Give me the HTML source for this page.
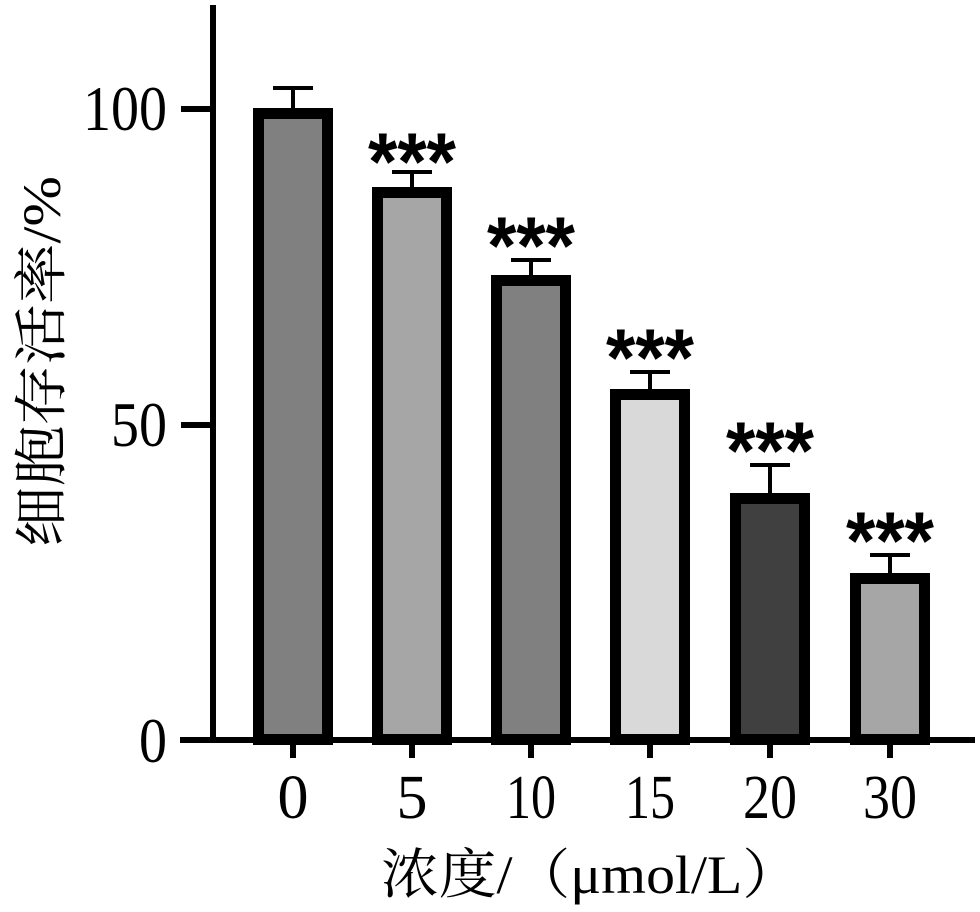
<!DOCTYPE html>
<html><head><meta charset="utf-8"><style>html,body{margin:0;padding:0;background:#fff}svg{display:block}</style></head>
<body>
<svg width="980" height="912" viewBox="0 0 980 912" xmlns="http://www.w3.org/2000/svg">
<g font-family="'Liberation Serif','Noto Serif CJK SC',serif" fill="#000">
<g stroke="#000" stroke-width="11">
<rect x="258.5" y="113.5" width="69" height="626" fill="#808080"/>
<rect x="377.5" y="192.5" width="69" height="547" fill="#a6a6a6"/>
<rect x="496.5" y="280.5" width="69" height="459" fill="#808080"/>
<rect x="615.5" y="394.5" width="69" height="345" fill="#d9d9d9"/>
<rect x="735.5" y="498.5" width="69" height="241" fill="#404040"/>
<rect x="855.5" y="578.5" width="69" height="161" fill="#a6a6a6"/>
</g>
<g stroke="#000" stroke-width="4">
<path d="M293 108V88M273 88H313"/>
<path d="M412 187V172M392 172H432"/>
<path d="M531 275V260M511 260H551"/>
<path d="M650 389V372M630 372H670"/>
<path d="M770 493V465M750 465H790"/>
<path d="M890 573V555M870 555H910"/>
</g>
<g stroke="#000" stroke-width="6">
<path d="M213 5V743"/>
<path d="M180 740H975"/>
<path d="M181 109H213M181 425H213M181 740H213"/>
<path d="M293 740V758M412 740V758M531 740V758M650 740V758M770 740V758M890 740V758"/>
</g>
<g font-family="'Liberation Sans',sans-serif" font-size="82" font-weight="bold">
<text x="368" y="190" textLength="88" lengthAdjust="spacingAndGlyphs">***</text>
<text x="487" y="274" textLength="88" lengthAdjust="spacingAndGlyphs">***</text>
<text x="606" y="386" textLength="88" lengthAdjust="spacingAndGlyphs">***</text>
<text x="726" y="479" textLength="88" lengthAdjust="spacingAndGlyphs">***</text>
<text x="846" y="569" textLength="88" lengthAdjust="spacingAndGlyphs">***</text>
</g>
<g font-size="64" text-anchor="end">
<text x="167" y="130" textLength="84" lengthAdjust="spacingAndGlyphs">100</text>
<text x="167" y="446" textLength="56" lengthAdjust="spacingAndGlyphs">50</text>
<text x="167" y="762" textLength="28" lengthAdjust="spacingAndGlyphs">0</text>
</g>
<g font-size="62" text-anchor="middle">
<text x="293" y="818">0</text>
<text x="412" y="818">5</text>
<text x="531" y="818" textLength="50" lengthAdjust="spacingAndGlyphs">10</text>
<text x="650" y="818" textLength="50" lengthAdjust="spacingAndGlyphs">15</text>
<text x="770" y="818" textLength="54" lengthAdjust="spacingAndGlyphs">20</text>
<text x="890" y="818" textLength="54" lengthAdjust="spacingAndGlyphs">30</text>
</g>
<text x="381" y="893" font-size="54" textLength="419" lengthAdjust="spacingAndGlyphs">浓度/（μmol/L）</text>
<text transform="translate(60,547) rotate(-90)" x="0" y="0" font-size="54" textLength="371" lengthAdjust="spacingAndGlyphs">细胞存活率/%</text>
</g>
</svg>
</body></html>
